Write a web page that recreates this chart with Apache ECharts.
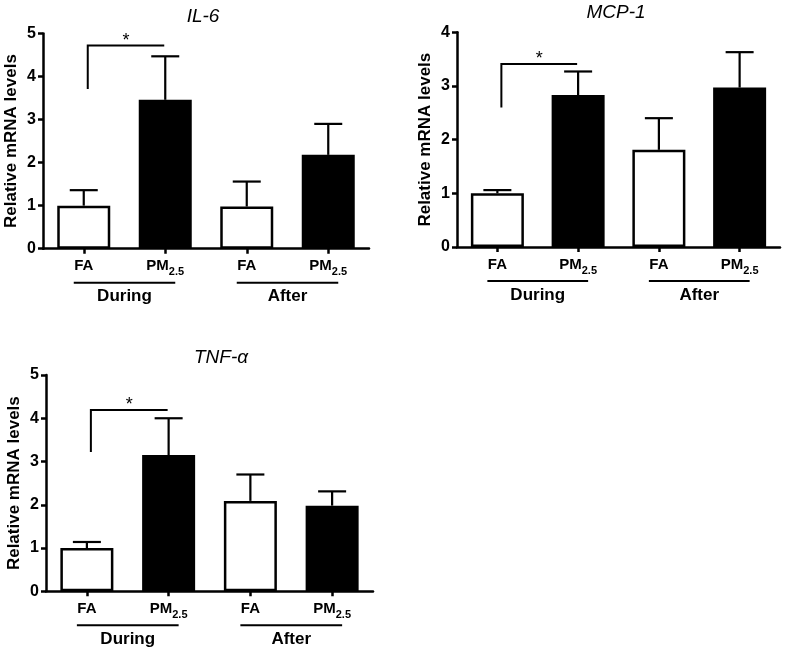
<!DOCTYPE html>
<html><head><meta charset="utf-8">
<script src="https://cdn.jsdelivr.net/npm/echarts@6/dist/echarts.min.js"></script>
<style>html,body{margin:0;padding:0;background:#fff}#c{width:785px;height:653px}</style>
</head><body><div id="c"></div>
<script>
// ---- data ----
const categories = ['FA', 'PM2.5', 'FA', 'PM2.5'];
const groupLabels = ['During', 'After'];
const groupSpans = [[0, 1], [2, 3]];
const barFill = ['#ffffff', '#000000', '#ffffff', '#000000'];
const panelTitles = ['IL-6', 'MCP-1', 'TNF-\u03b1'];
const yMaxes = [5, 4, 5];
const il6Mean = [1.00, 3.46, 0.98, 2.18];
const il6Sem = [0.36, 1.01, 0.58, 0.72];
const mcp1Mean = [1.00, 2.83, 1.81, 2.97];
const mcp1Sem = [0.06, 0.44, 0.59, 0.66];
const tnfMean = [1.00, 3.15, 2.09, 1.98];
const tnfSem = [0.14, 0.85, 0.61, 0.33];
// significance brackets: [fromCat, toCat, legBottom, top]
const il6Sig = [0, 1, 3.71, 4.72];
const mcp1Sig = [0, 1, 2.60, 3.41];
const tnfSig = [0, 1, 3.22, 4.19];
const sigMark = '*';
const yAxisName = 'Relative mRNA levels';

// ---- layout ----
const FONT = '"Liberation Sans", Arial, Helvetica, sans-serif';
const grids = [
  {left: 43, top: 33.5, width: 326, height: 215.2},
  {left: 457, top: 32.3, width: 323, height: 214.7},
  {left: 46, top: 375, width: 327, height: 216.3}
];
const titlePos = [[203, 17], [616, 13], [221, 358]];
const means = [il6Mean, mcp1Mean, tnfMean];
const sems = [il6Sem, mcp1Sem, tnfSem];
const sigs = [il6Sig, mcp1Sig, tnfSig];

const option = {
  animation: false,
  backgroundColor: '#fff',
  grid: grids.map(g => Object.assign({containLabel: false}, g)),
  graphic: panelTitles.map((t, i) => ({
    type: 'text', x: titlePos[i][0], y: titlePos[i][1],
    style: {text: t, fill: '#000', font: 'italic 19px ' + FONT, align: 'center', verticalAlign: 'middle', textAlign: 'center', textVerticalAlign: 'middle'}
  })),
  xAxis: grids.map((g, i) => ({
    type: 'category', gridIndex: i, data: categories,
    axisLine: {show: true, lineStyle: {color: '#000', width: 2.5}},
    axisTick: {show: true, alignWithLabel: true, length: 5, lineStyle: {color: '#000', width: 2.5}},
    axisLabel: {
      margin: 10, color: '#000', interval: 0,
      formatter: v => v === 'PM2.5' ? '{b|PM}{s|2.5}' : '{b|' + v + '}',
      rich: {
        b: {fontSize: 15, fontWeight: 'bold', fontFamily: FONT, color: '#000', lineHeight: 17, verticalAlign: 'top'},
        s: {fontSize: 11, fontWeight: 'bold', fontFamily: FONT, color: '#000', lineHeight: 19, verticalAlign: 'bottom'}
      }
    },
    splitLine: {show: false}
  })),
  yAxis: grids.map((g, i) => ({
    type: 'value', gridIndex: i, min: 0, max: yMaxes[i], interval: 1,
    name: yAxisName, nameLocation: 'middle', nameGap: 23, nameRotate: 90,
    nameTextStyle: {fontSize: 17, fontWeight: 'bold', fontFamily: FONT, color: '#000'},
    axisLine: {show: true, lineStyle: {color: '#000', width: 2.5}},
    axisTick: {show: true, length: 5, lineStyle: {color: '#000', width: 2.5}},
    axisLabel: {fontSize: 16, fontWeight: 'bold', fontFamily: FONT, color: '#000', margin: 7},
    splitLine: {show: false}
  })),
  series: []
};

grids.forEach((g, i) => {
  option.series.push({
    type: 'bar', xAxisIndex: i, yAxisIndex: i, barWidth: 53,
    data: means[i].map((v, k) => ({value: v, itemStyle: {color: barFill[k], borderColor: '#000', borderWidth: 2.5}})),
    z: 2
  });
  option.series.push({
    type: 'custom', xAxisIndex: i, yAxisIndex: i, clip: false, z: 3,
    data: means[i].map((v, k) => [k, v, +(v + sems[i][k]).toFixed(3)]),
    encode: {x: 0, y: [1, 2]},
    renderItem: (params, api) => {
      const p0 = api.coord([api.value(0), api.value(1)]);
      const p1 = api.coord([api.value(0), api.value(2)]);
      const st = {stroke: '#000', lineWidth: 2.2};
      return {type: 'group', children: [
        {type: 'line', shape: {x1: p0[0], y1: p0[1], x2: p1[0], y2: p1[1]}, style: st},
        {type: 'line', shape: {x1: p1[0] - 14, y1: p1[1], x2: p1[0] + 14, y2: p1[1]}, style: st}
      ]};
    }
  });
  option.series.push({
    type: 'custom', xAxisIndex: i, yAxisIndex: i, clip: false, z: 3,
    data: [sigs[i]],
    encode: {x: 0, y: 2},
    renderItem: (params, api) => {
      const pL = api.coord([api.value(0), api.value(2)]);
      const pT = api.coord([api.value(0), api.value(3)]);
      const pR = api.coord([api.value(1), api.value(3)]);
      const xl = pL[0] + 4, xr = pR[0] - 1;
      return {type: 'group', children: [
        {type: 'polyline', shape: {points: [[xl, pL[1]], [xl, pT[1]], [xr, pT[1]]]}, style: {stroke: '#000', lineWidth: 2, fill: null}},
        {type: 'text', x: (xl + xr) / 2, y: pT[1] - 5, style: {text: sigMark, font: '18px ' + FONT, fill: '#000', align: 'center', verticalAlign: 'middle', textAlign: 'center', textVerticalAlign: 'middle'}}
      ]};
    }
  });
  option.series.push({
    type: 'custom', xAxisIndex: i, yAxisIndex: i, clip: false, z: 3,
    data: groupSpans.map((s, k) => [s[0], s[1], k]),
    encode: {x: 0},
    renderItem: (params, api) => {
      const a = api.coord([api.value(0), 0]);
      const b = api.coord([api.value(1), 0]);
      const y0 = a[1];
      return {type: 'group', children: [
        {type: 'line', shape: {x1: a[0] - 10, y1: y0 + 34, x2: b[0] + 10, y2: y0 + 34}, style: {stroke: '#000', lineWidth: 2}},
        {type: 'text', x: (a[0] + b[0]) / 2, y: y0 + 48, style: {text: groupLabels[api.value(2)], font: 'bold 17px ' + FONT, fill: '#000', align: 'center', verticalAlign: 'middle', textAlign: 'center', textVerticalAlign: 'middle'}}
      ]};
    }
  });
});

const chart = echarts.init(document.getElementById('c'), null, {renderer: 'canvas'});
chart.setOption(option);
</script></body></html>
